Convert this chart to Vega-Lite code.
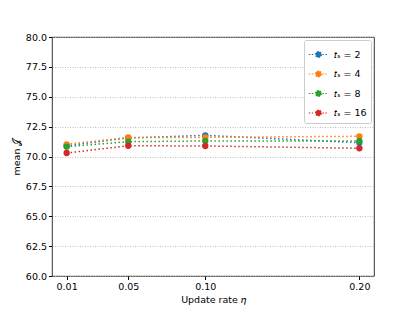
{
  "$schema": "https://vega.github.io/schema/vega-lite/v6.json",
  "width": 322,
  "height": 239,
  "autosize": {"type": "none"},
  "padding": {"left": 52, "top": 37, "right": 41, "bottom": 35},
  "background": "white",
  "config": {
    "font": "DejaVu Sans",
    "view": {"stroke": "black", "strokeWidth": 0.8}
  },
  "data": {
    "values": [
      {"eta": 0.01, "series": "𝑡ₛ = 2", "mean": 70.9},
      {"eta": 0.05, "series": "𝑡ₛ = 2", "mean": 71.55},
      {"eta": 0.10, "series": "𝑡ₛ = 2", "mean": 71.77},
      {"eta": 0.20, "series": "𝑡ₛ = 2", "mean": 71.15},
      {"eta": 0.01, "series": "𝑡ₛ = 4", "mean": 71.02},
      {"eta": 0.05, "series": "𝑡ₛ = 4", "mean": 71.6},
      {"eta": 0.10, "series": "𝑡ₛ = 4", "mean": 71.6},
      {"eta": 0.20, "series": "𝑡ₛ = 4", "mean": 71.69},
      {"eta": 0.01, "series": "𝑡ₛ = 8", "mean": 70.82},
      {"eta": 0.05, "series": "𝑡ₛ = 8", "mean": 71.24},
      {"eta": 0.10, "series": "𝑡ₛ = 8", "mean": 71.3},
      {"eta": 0.20, "series": "𝑡ₛ = 8", "mean": 71.3},
      {"eta": 0.01, "series": "𝑡ₛ = 16", "mean": 70.29},
      {"eta": 0.05, "series": "𝑡ₛ = 16", "mean": 70.9},
      {"eta": 0.10, "series": "𝑡ₛ = 16", "mean": 70.88},
      {"eta": 0.20, "series": "𝑡ₛ = 16", "mean": 70.69}
    ]
  },
  "encoding": {
    "x": {
      "field": "eta", "type": "quantitative",
      "scale": {"domain": [0.0005, 0.2095], "nice": false, "zero": false},
      "axis": {
        "values": [0.01, 0.05, 0.10, 0.20], "format": ".2f",
        "title": "Update rate 𝜂", "titleFontWeight": "normal", "titleFontSize": 9.5,
        "titlePadding": 3, "labelFontSize": 9.5, "labelPadding": 2,
        "tickSize": 3.5, "tickColor": "black", "domain": false, "grid": false, "labelColor": "black", "titleColor": "black"
      }
    },
    "y": {
      "field": "mean", "type": "quantitative",
      "scale": {"domain": [60, 80], "nice": false, "zero": false},
      "axis": {
        "values": [60, 62.5, 65, 67.5, 70, 72.5, 75, 77.5, 80], "format": ".1f",
        "title": "mean 𝒥", "titleFontWeight": "normal", "titleFontSize": 9.5,
        "titlePadding": 4, "labelFontSize": 9.5, "labelPadding": 2,
        "tickSize": 3.5, "tickColor": "black", "domain": false,
        "grid": true, "gridColor": "#b0b0b0", "gridDash": [1, 1.5], "gridWidth": 0.8,
        "labelColor": "black", "titleColor": "black"
      }
    },
    "color": {
      "field": "series", "type": "nominal",
      "sort": ["𝑡ₛ = 2", "𝑡ₛ = 4", "𝑡ₛ = 8", "𝑡ₛ = 16"],
      "scale": {"range": ["#1f77b4", "#ff7f0e", "#2ca02c", "#d62728"]},
      "legend": {
        "title": null, "orient": "none", "legendX": 252, "legendY": 3,
        "strokeColor": "#cccccc", "fillColor": "white", "cornerRadius": 2,
        "padding": 4, "labelFontSize": 9.5, "labelColor": "black", "labelOffset": 5,
        "symbolType": "M-1,0 L-0.4,0 M0.4,0 L1,0 M-0.3,0 A0.3,0.3 0 1 1 0.3,0 A0.3,0.3 0 1 1 -0.3,0 Z",
        "symbolSize": 380, "rowPadding": 3.5, "symbolStrokeWidth": 1.2, "symbolDash": [1.5, 1.5]
      }
    }
  },
  "layer": [
    {"mark": {"type": "line", "strokeDash": [1.5, 2.5], "strokeWidth": 1.5}},
    {"mark": {"type": "circle", "size": 40, "opacity": 1}}
  ]
}
